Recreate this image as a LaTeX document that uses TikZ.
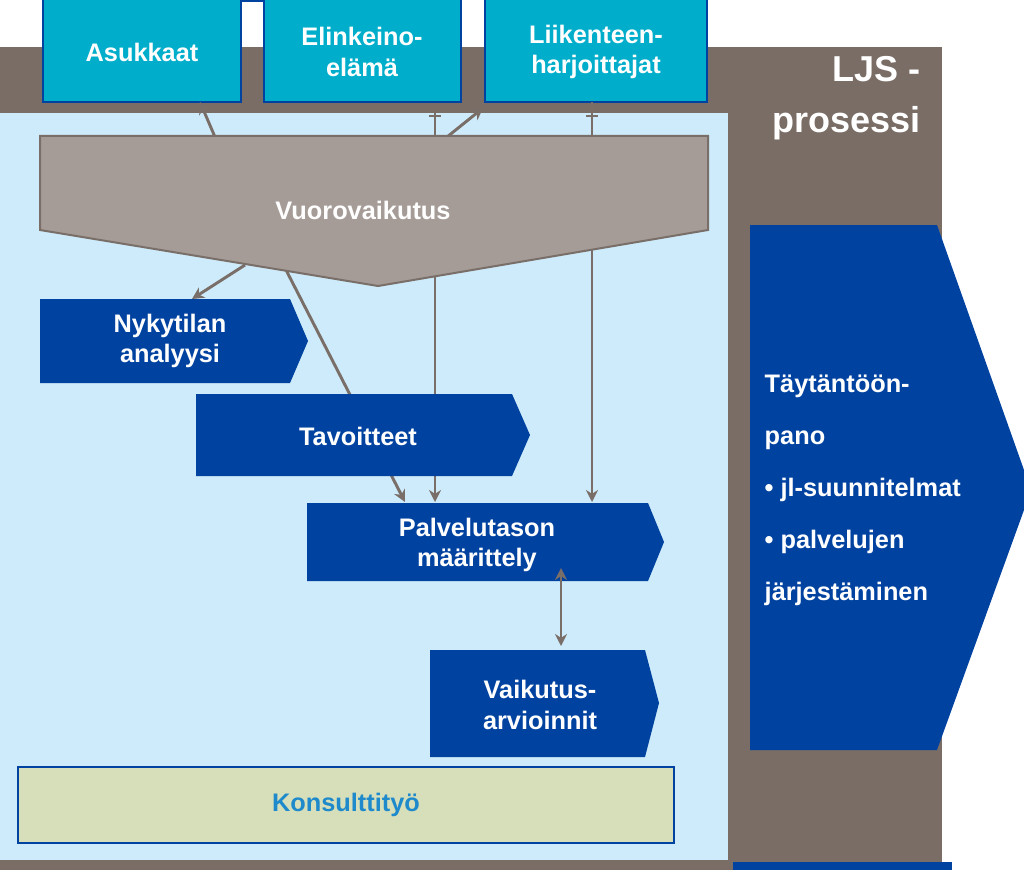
\documentclass[tikz,border=0pt]{standalone}
\usepackage{fontspec}
\setmainfont{Liberation Sans}
\usetikzlibrary{arrows.meta}
\definecolor{brn}{HTML}{7A6D66}
\definecolor{lblue}{HTML}{CDEBFA}
\definecolor{cyanb}{HTML}{00AECB}
\definecolor{dblue}{HTML}{0042A0}
\definecolor{vgray}{HTML}{A59C97}
\definecolor{konsf}{HTML}{D7DFBA}
\definecolor{konst}{HTML}{1E8ACB}
\definecolor{arr}{HTML}{7A6E68}
\begin{document}
\begin{tikzpicture}[x=0.75pt,y=-0.75pt,
  txt/.style={font=\bfseries\fontsize{19}{23}\selectfont,text=white,align=center},
  topbox/.style={fill=cyanb,draw=dblue,line width=1.5pt},
  chev/.style={fill=dblue,draw=none},
  con/.style={draw=arr,line width=2.2pt,-{Stealth[length=9pt,width=9pt]}},
  plain/.style={draw=arr,line width=2.2pt}]
\useasboundingbox (0,0) rectangle (1024,870);
\fill[white] (0,0) rectangle (1024,870);
\fill[brn] (0,47) rectangle (942,870);
\fill[lblue] (0,113) rectangle (728,860);
\fill[dblue] (733,862) rectangle (952,870);
% top boxes
\node[topbox,minimum width=198\pgflinewidth,anchor=north west,inner sep=0,minimum height=0] (asbox) at (43,0) {};
\draw[topbox] (43,-2) rectangle (241,102);
\draw[topbox] (264,-2) rectangle (461,102);
\draw[topbox] (485,-2) rectangle (707,102);
\node[txt] (as) at (142,52) {Asukkaat};
\node[txt] (el) at (362,52) {Elinkeino-\\elämä};
\node[txt] (li) at (596,52) {Liikenteen-\\harjoittajat};
\coordinate (asb) at (200,102);
\coordinate (elb) at (435,113);
\coordinate (lib) at (592,102);
\coordinate (lic) at (483,108);
\node[txt,font=\bfseries\fontsize{27}{38}\selectfont,align=right,anchor=north east] (ljs) at (925,52) {LJS -\\prosessi};
% connectors behind boxes
\coordinate (v1) at (245,265);
\coordinate (v2) at (285,268);
\coordinate (v3) at (435,270);
\coordinate (v4) at (592,250);
\coordinate (ny) at (192,299);
\coordinate (p1) at (405,502);
\coordinate (p2) at (435,502);
\coordinate (p3) at (592,502);
\draw[con] (v1) -- (ny);
\draw[con] (v2) -- (p1);
\draw[con] (v3) -- (p2);
\draw[con] (v4) -- (p3);
\draw[con] (215,137) -- (asb);
\draw[con] (447,137) -- (lic);
\draw[plain] (435,137) -- (elb);
\draw[plain] (592,137) -- (lib);
\draw[plain] (429,116) -- (441,116);
\draw[plain] (586,116) -- (598,116);
% Vuorovaikutus
\draw[fill=vgray,draw=arr,line width=1.5pt] (40,136) -- (708,136) -- (708,230) -- (378,286) -- (40,230) -- cycle;
\node[txt] (vv) at (363,210) {Vuorovaikutus};
% chevrons
\fill[chev] (40,299) -- (290,299) -- (308,341) -- (290,383) -- (40,383) -- cycle;
\node[txt] (nyk) at (170,341) {Nykytilan\\analyysi};
\fill[chev] (196,394) -- (512,394) -- (530,435) -- (512,476) -- (196,476) -- cycle;
\node[txt] (tav) at (358,436) {Tavoitteet};
\fill[chev] (307,503) -- (648,503) -- (664,542) -- (648,581) -- (307,581) -- cycle;
\node[txt] (pal) at (477,545) {Palvelutason\\määrittely};
\fill[chev] (430,650) -- (645,650) -- (659,703) -- (645,757) -- (430,757) -- cycle;
\node[txt] (vai) at (540,705) {Vaikutus-\\arvioinnit};
\draw[draw=arr,line width=2.2pt,{Stealth[length=9pt,width=9pt]}-{Stealth[length=9pt,width=9pt]}] (561,568) -- (561,646);
% Konsulttityo
\draw[fill=konsf,draw=dblue,line width=1.5pt] (18,767) rectangle (674,843);
\node[txt,text=konst] (kon) at (346,805) {Konsulttityö};
% right arrow
\fill[dblue] (750,225) -- (937,225) -- (1024,470) -- (1024,510) -- (937,750) -- (750,750) -- cycle;
\node[txt,align=left,anchor=north west,font=\bfseries\fontsize{19}{39}\selectfont] (tay) at (760,370) {Täytäntöön-\\pano\\• jl-suunnitelmat\\• palvelujen\\järjestäminen};
\end{tikzpicture}
\end{document}
